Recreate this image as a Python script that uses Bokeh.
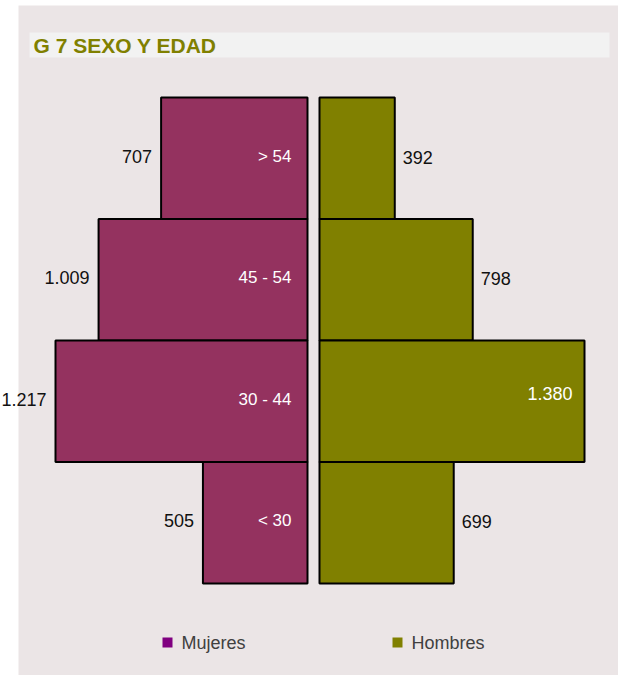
from bokeh.plotting import figure
from bokeh.models import Range1d, ColumnDataSource, LinearScale
from bokeh.core.properties import value
from bokeh.embed import file_html
from bokeh.resources import INLINE

# ---- data ----
age_groups = ["> 54", "45 - 54", "30 - 44", "< 30"]   # top to bottom
mujeres = [707, 1009, 1217, 505]
hombres = [392, 798, 1380, 699]
series_names = ["Mujeres", "Hombres"]
title_text = "G 7 SEXO Y EDAD"

WOMEN_COLOR = "#94325f"
MEN_COLOR = "#808000"
LEG_WOMEN = "#800080"
LEG_MEN = "#808000"
BG = "#ebe5e6"
FONT = "Liberation Sans"


def fmt(v):
    return "{:,}".format(v).replace(",", ".")


# ---- layout (page pixels) ----
W, H = 618, 675
FL, FR, FT, FB = 0, W, 0, H               # frame covers the whole canvas
w_zero, w_max_px = 307, 55                # women axis: 0 at 307, max at 55
m_zero, m_max_px = 319, 584               # men axis: 0 at 319, max at 584
bars_top, bars_bottom = 97, 583

w_slope = (w_max_px - w_zero) / max(mujeres)
w_start = (FL - w_zero) / w_slope
w_end = w_start + (FR - FL) / w_slope
m_slope = (m_max_px - m_zero) / max(hombres)
m_start = (FL - m_zero) / m_slope
m_end = m_start + (FR - FL) / m_slope

n = len(age_groups)
unit_px = (bars_bottom - bars_top) / n
y_end = -0.5 - (bars_top - FT) / unit_px
y_start = y_end + (FB - FT) / unit_px

p = figure(width=W, height=H, output_backend="svg", toolbar_location=None,
           x_range=Range1d(w_start, w_end),
           y_range=Range1d(y_start, y_end),
           min_border_left=0, min_border_right=0, min_border_top=0,
           min_border_bottom=0)
p.extra_x_ranges = {"men": Range1d(m_start, m_end), "px": Range1d(FL, FR)}
p.extra_x_scales = {"men": LinearScale(), "px": LinearScale()}
p.extra_y_ranges = {"px": Range1d(FB, FT)}
p.extra_y_scales = {"px": LinearScale()}
p.axis.visible = False
p.grid.visible = False
p.outline_line_color = None
p.background_fill_color = "white"
p.border_fill_color = "white"

# panel background and title bar
p.quad(left=[18], right=[618], top=[5], bottom=[675], fill_color=BG,
       line_color=None, x_range_name="px", y_range_name="px")
p.quad(left=[29], right=[609], top=[32], bottom=[57], fill_color="#f2f2f2",
       line_color=None, x_range_name="px", y_range_name="px")
p.text(x=[33], y=[45], text=[title_text], text_align="left",
       text_baseline="middle", text_color="#808000", text_font=value(FONT),
       text_font_style="bold", text_font_size="21px",
       x_range_name="px", y_range_name="px")

pos = list(range(n))
src = ColumnDataSource(dict(
    pos=pos, age=age_groups, muj=mujeres, hom=hombres,
    muj_lab=[fmt(v) for v in mujeres],
    hom_lab=[fmt(v) for v in hombres],
))

# bars
p.hbar(y="pos", left=0, right="muj", height=1.0, source=src,
       fill_color=WOMEN_COLOR, line_color="black", line_width=2)
p.hbar(y="pos", left=0, right="hom", height=1.0, source=src,
       fill_color=MEN_COLOR, line_color="black", line_width=2,
       x_range_name="men")

# women value labels (outside, left)
p.text(x="muj", y="pos", text="muj_lab", source=src, x_offset=-9, y_offset=-2,
       text_align="right", text_baseline="middle", text_color="#111111",
       text_font=value(FONT), text_font_size="18px")
# age labels inside women bars
p.text(x=0, y="pos", text="age", source=src, x_offset=-16, y_offset=-2,
       text_align="right", text_baseline="middle", text_color="white",
       text_font=value(FONT), text_font_size="17px")

# men value labels: inside if bar is long, otherwise outside
inside = [v > 1000 for v in hombres]
out_src = ColumnDataSource(dict(
    pos=[q for q, i in zip(pos, inside) if not i],
    hom=[v for v, i in zip(hombres, inside) if not i],
    lab=[fmt(v) for v, i in zip(hombres, inside) if not i]))
in_src = ColumnDataSource(dict(
    pos=[q for q, i in zip(pos, inside) if i],
    hom=[v for v, i in zip(hombres, inside) if i],
    lab=[fmt(v) for v, i in zip(hombres, inside) if i]))
p.text(x="hom", y="pos", text="lab", source=out_src, x_offset=8, y_offset=-1,
       text_align="left", text_baseline="middle", text_color="#111111",
       text_font=value(FONT), text_font_size="18px", x_range_name="men")
p.text(x="hom", y="pos", text="lab", source=in_src, x_offset=-12, y_offset=-8,
       text_align="right", text_baseline="middle", text_color="white",
       text_font=value(FONT), text_font_size="18px", x_range_name="men")

# legend
p.scatter(x=[167, 397], y=[642, 642], marker="square", size=10,
          fill_color=[LEG_WOMEN, LEG_MEN], line_color=None,
          x_range_name="px", y_range_name="px")
p.text(x=[181, 411], y=[642, 642], text=series_names, text_align="left",
       text_baseline="middle", text_color="#404040", text_font=value(FONT),
       text_font_size="18px", x_range_name="px", y_range_name="px")

open("out.html", "w").write(file_html(p, INLINE))
